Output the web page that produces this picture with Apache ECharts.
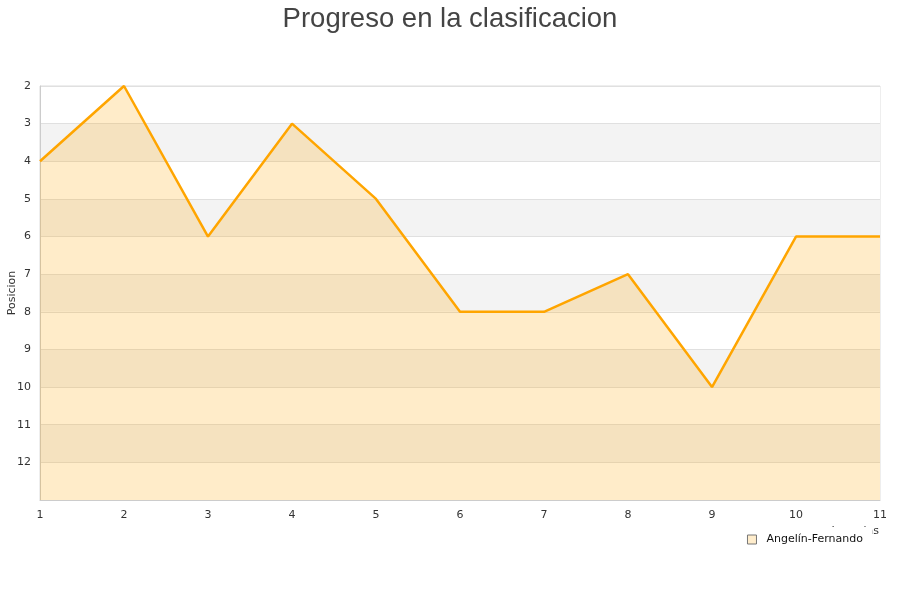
<!DOCTYPE html>
<html><head><meta charset="utf-8">
<script src="https://cdn.jsdelivr.net/npm/echarts@6/dist/echarts.min.js"></script>
<style>html,body{margin:0;padding:0;background:#fff}#c{width:900px;height:600px}</style>
</head><body><div id="c"></div>
<script>
const jornadas = [1,2,3,4,5,6,7,8,9,10,11];
const posiciones = [4,2,6,3,5,8,8,7,10,6,6];
const serieNombre = 'Angelín-Fernando';
const titulo = 'Progreso en la clasificacion';

const chart = echarts.init(document.getElementById('c'));
chart.setOption({
  animation: false,
  backgroundColor: '#fff',
  title: {text: titulo, left: 'center', top: 0,
    textStyle: {fontFamily: 'Liberation Sans', fontSize: 27.5, fontWeight: 'normal', color: '#444'}},
  grid: {left: 40, right: 20, top: 86, bottom: 100, show: true, borderColor: '#ddd', borderWidth: 1,
    containLabel: false, outerBoundsMode: 'none'},
  legend: {
    right: 28, top: 527, padding: [7, 9, 5, 5], backgroundColor: '#fff', z: 10,
    itemWidth: 9, itemHeight: 9, icon: 'rect',
    textStyle: {fontFamily: 'DejaVu Sans', fontSize: 11, color: '#111', padding: [0, 0, 0, 5]},
    data: [{name: serieNombre, itemStyle: {color: '#ffedcc', borderColor: '#777', borderWidth: 1}}]
  },
  xAxis: {
    type: 'value', min: 1, max: 11, interval: 1,
    name: 'Jornadas', nameLocation: 'end', nameGap: -1, nameMoveOverlap: false,
    nameTextStyle: {fontFamily: 'DejaVu Sans', fontSize: 11, color: '#333', align: 'right', verticalAlign: 'top', padding: [26, 0, 0, 0]},
    axisLine: {show: true, lineStyle: {color: '#ccc'}},
    axisTick: {show: false},
    splitLine: {show: false},
    axisLabel: {fontFamily: 'DejaVu Sans', fontSize: 11, color: '#333', margin: 10}
  },
  yAxis: {
    type: 'value', inverse: true, min: 2, max: 13, interval: 1,
    name: 'Posicion', nameLocation: 'middle', nameGap: 22, nameMoveOverlap: false,
    nameTextStyle: {fontFamily: 'DejaVu Sans', fontSize: 11, color: '#333'},
    axisLine: {show: true, lineStyle: {color: '#ccc'}},
    axisTick: {show: false},
    splitLine: {show: true, lineStyle: {color: '#e0e0e0'}},
    splitArea: {show: true, areaStyle: {color: ['#ffffff', '#f3f3f3']}},
    axisLabel: {fontFamily: 'DejaVu Sans', fontSize: 11, color: '#333', margin: 9, showMaxLabel: false,
      formatter: v => v === 13 ? '' : String(v)}
  },
  series: [{
    name: serieNombre, type: 'line',
    data: jornadas.map((j, i) => [j, posiciones[i]]),
    showSymbol: false, symbol: 'none',
    lineStyle: {color: '#ffa500', width: 2.5},
    itemStyle: {color: '#ffa500'},
    areaStyle: {color: '#ffa500', opacity: 0.21, origin: 'end'}
  }]
});
</script></body></html>
